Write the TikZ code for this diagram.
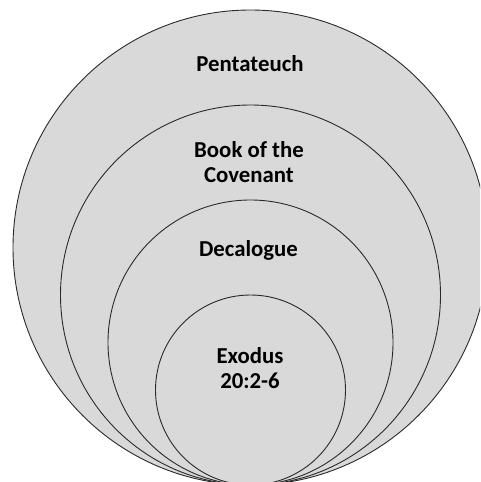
\documentclass[tikz,border=0pt]{standalone}
\usepackage{fontspec}
\setmainfont{Carlito}
\definecolor{ringfill}{HTML}{D9D9D9}
\definecolor{ringline}{HTML}{2A2A2A}
\tikzset{
  ring/.style={circle, draw=ringline, fill=ringfill, line width=0.9pt, inner sep=0pt, outer sep=0pt},
  lbl/.style={font=\fontsize{22.8}{25}\selectfont\bfseries, text=black, align=center, inner sep=0pt, anchor=base}
}
\begin{document}
\begin{tikzpicture}[x=1pt,y=-1pt]
\useasboundingbox (0,0) rectangle (480,482);
\clip (0,0) rectangle (480,482);
\node[ring, minimum size=475pt] (c1) at (250.5,247.5) {};
\node[ring, minimum size=380pt] (c2) at (250.5,295) {};
\node[ring, minimum size=285pt] (c3) at (250.5,342.5) {};
\node[ring, minimum size=190pt] (c4) at (250.5,390) {};
\node[lbl] (t1) at (250,71.7) {Pentateuch};
\node[lbl] (t2) at (249,182.3) {Book of the\\Covenant};
\node[lbl] (t3) at (248.5,256.7) {Decalogue};
\node[lbl] (t4) at (250,388.3) {Exodus\\20:2-6};
\end{tikzpicture}
\end{document}
